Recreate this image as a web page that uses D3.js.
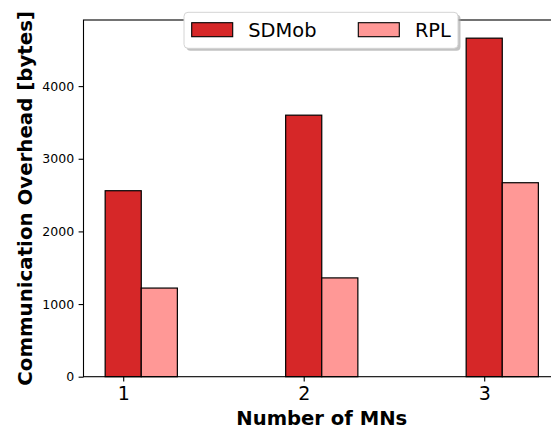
<!DOCTYPE html>
<html>
<head>
<meta charset="utf-8">
<script src="https://cdn.jsdelivr.net/npm/d3@7"></script>
<style>
  body { margin: 0; background: #fff; }
  text { font-family: "DejaVu Sans", sans-serif; }
</style>
</head>
<body>
<div id="chart"></div>
<script>
// values
const mns = [1, 2, 3];
const sdmob = [2560, 3600, 4660];
const rpl = [1220, 1360, 2670];
const seriesNames = ["SDMob", "RPL"];
const seriesColors = ["#d62728", "#ff9896"];
const yTicks = [0, 1000, 2000, 3000, 4000];

const W = 551, H = 431;
const margin = {left: 83.5, top: 20};
const xmin = 0.78, xmax = 3.42, unit = 180.5;
const width = (xmax - xmin) * unit;
const height = 356.7;

const svg = d3.select("#chart").append("svg")
  .attr("width", W).attr("height", H);

const g = svg.append("g")
  .attr("transform", "translate(" + margin.left + "," + margin.top + ")");

const barW = 0.2;
const x = d3.scaleLinear().domain([xmin, xmax]).range([0, width]);
const y = d3.scaleLinear().domain([0, 4910]).range([height, 0]);

// SDMob centred on the tick, RPL one bar width to the right
const data = mns.map((m, i) => [
  {x: m, v: sdmob[i], c: seriesColors[0]},
  {x: m + barW, v: rpl[i], c: seriesColors[1]}
]).flat();

const bw = x(barW) - x(0);
g.selectAll("rect.bar")
  .data(data)
  .enter().append("rect")
    .attr("class", "bar")
    .attr("x", d => x(d.x) - bw / 2)
    .attr("width", bw)
    .attr("y", d => y(d.v))
    .attr("height", d => y(0) - y(d.v))
    .attr("fill", d => d.c)
    .attr("stroke", "#000")
    .attr("stroke-width", 1.2);

// axes
const yAxis = g.append("g")
  .call(d3.axisLeft(y).tickValues(yTicks).tickFormat(d3.format("d")).tickSize(4.9).tickPadding(4.5));
yAxis.select(".domain").remove();
yAxis.selectAll("line").attr("stroke-width", 1.1);
yAxis.selectAll("text").attr("font-size", 12.5).attr("fill", "#000");

const xAxis = g.append("g")
  .attr("transform", "translate(0," + height + ")")
  .call(d3.axisBottom(x).tickValues(mns).tickFormat(d3.format("d")).tickSize(4.9).tickPadding(5.4));
xAxis.select(".domain").remove();
xAxis.selectAll("line").attr("stroke-width", 1.1);
xAxis.selectAll("text").attr("font-size", 19).attr("fill", "#000");

// spines
g.append("rect")
  .attr("x", 0).attr("y", 0)
  .attr("width", width).attr("height", height)
  .attr("fill", "none").attr("stroke", "#000").attr("stroke-width", 1.1);

// labels
svg.append("text")
  .attr("x", margin.left + width / 2)
  .attr("y", 425)
  .attr("text-anchor", "middle")
  .attr("font-size", 19.6).attr("font-weight", "bold")
  .text("Number of MNs");

svg.append("text")
  .attr("transform", "translate(31.5," + (margin.top + height / 2) + ") rotate(-90)")
  .attr("text-anchor", "middle")
  .attr("font-size", 19.8).attr("font-weight", "bold")
  .text("Communication Overhead [bytes]");

// legend
const lg = svg.append("g").attr("transform", "translate(184,12.3)");
lg.append("rect")
  .attr("x", 2.5).attr("y", 2.5).attr("width", 274).attr("height", 36)
  .attr("rx", 4).attr("fill", "#a8a8a8").attr("opacity", 0.7);
lg.append("rect")
  .attr("x", 0).attr("y", 0).attr("width", 274).attr("height", 36)
  .attr("rx", 4).attr("fill", "#fff").attr("stroke", "#d4d4d4");

const items = lg.selectAll("g.item")
  .data(seriesNames)
  .enter().append("g")
    .attr("transform", (d, i) => "translate(" + (7.7 + i * 166.6) + ",0)");
items.append("rect")
  .attr("x", 0).attr("y", 10.4).attr("width", 41).attr("height", 14)
  .attr("fill", (d, i) => seriesColors[i])
  .attr("stroke", "#000").attr("stroke-width", 1.1);
items.append("text")
  .attr("x", 56.6).attr("y", 24.7)
  .attr("font-size", 19.4)
  .text(d => d);
</script>
</body>
</html>
